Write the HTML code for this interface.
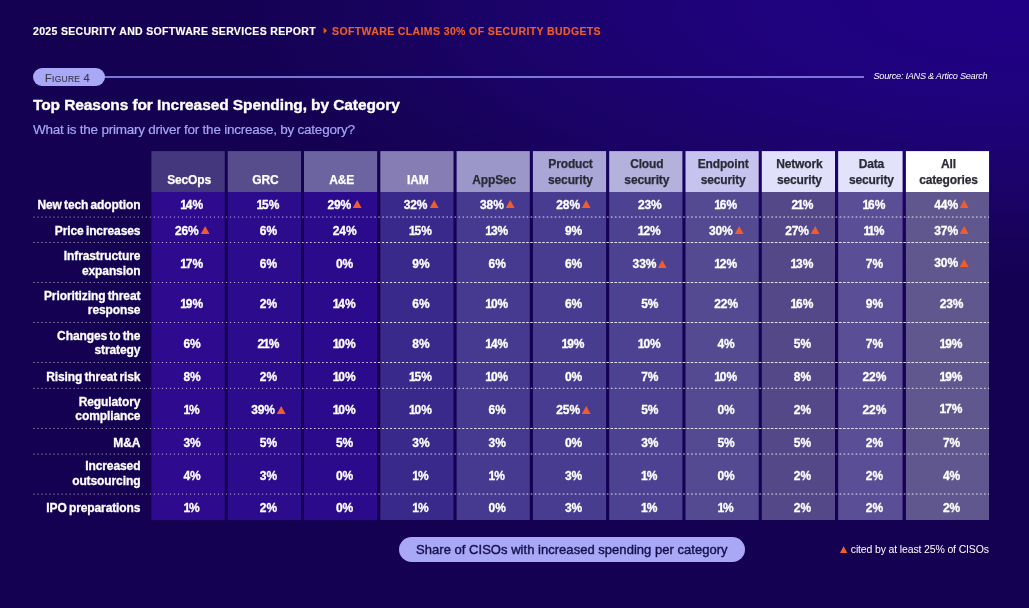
<!DOCTYPE html>
<html lang="en"><head><meta charset="utf-8"><title>Top Reasons for Increased Spending, by Category</title>
<style>
*{margin:0;padding:0;box-sizing:border-box}
html,body{width:1029px;height:608px;overflow:hidden}
body{position:relative;background:#140152;font-family:"Liberation Sans",Arial,sans-serif;color:#fff}
.bg{position:absolute;left:0;top:0;width:1029px;height:608px;background:radial-gradient(ellipse 820px 290px at 100% 0%, #200086 0%, #1e027a 40%, #1a0367 66%, #160257 88%, #140152 100%)}
.abs{position:absolute;white-space:nowrap}
.top{-webkit-text-stroke:0.15px;top:25px;font-size:10.5px;font-weight:bold;line-height:13px}
.pill{left:33px;top:68px;width:72px;height:18.4px;border-radius:9.2px;background:#a9a8f7;color:#3a3950;font-size:11px;line-height:20px;text-align:center;padding-right:3px;letter-spacing:0.25px;-webkit-text-stroke:0.15px #3a3950}
.pill small{font-size:8.5px}
.rule{left:104px;top:75.7px;width:760.4px;height:2px;background:#7a76d6}
.src{left:873.5px;top:69.5px;font-size:9.2px;font-style:italic;line-height:12px;letter-spacing:-0.28px}
.title{left:33px;top:96px;-webkit-text-stroke:0.35px #fff;font-size:15.5px;font-weight:bold;line-height:18px;letter-spacing:-0.09px}
.sub{-webkit-text-stroke:0.2px #a7a5f6;left:33px;top:122px;font-size:13.5px;line-height:16px;color:#a7a5f6;letter-spacing:-0.24px}
.hd{position:absolute;top:151.1px;height:40.9px}
.ht{-webkit-text-stroke:0.25px;position:absolute;left:1px;right:-1px;bottom:4.1px;text-align:center;font-size:12px;font-weight:bold;line-height:15.2px;letter-spacing:-0.15px}
.lbl{position:absolute;left:0;width:140.4px;text-align:right;font-size:12px;font-weight:bold;line-height:15px;letter-spacing:-0.1px;word-spacing:-1px;white-space:nowrap;-webkit-text-stroke:0.3px #fff}
.v{position:absolute;font-size:12px;font-weight:bold;line-height:14px;letter-spacing:-0.1px;white-space:nowrap;transform:translateX(-50%);-webkit-text-stroke:0.3px #fff}
.v b{margin:0 -0.9px 0 -1.1px}
.tri{display:inline-block;width:8.8px;height:8px;margin-left:1.9px;position:relative;top:-0.2px;fill:#ef5d2c;overflow:visible}
.legend{left:398.7px;top:537px;width:346.3px;height:25.2px;border-radius:12.6px;background:#a9a8f7;color:#17104c;font-size:13px;line-height:26.4px;text-align:center;letter-spacing:0.03px;-webkit-text-stroke:0.4px #17104c}
.note{left:839.9px;top:543.3px;font-size:10.5px;line-height:13px;letter-spacing:-0.145px}
.note .tri{width:7.3px;height:7px;margin:0 3.6px 0 0;top:0.2px}
</style></head><body>
<div class="bg"></div>
<div class="abs top" style="left:33px;letter-spacing:0.323px">2025 SECURITY AND SOFTWARE SERVICES REPORT</div>
<svg class="abs" style="left:323.2px;top:26.9px" width="5" height="8" viewBox="0 0 5 8"><path d="M0.7 0.6 L4 3.7 L0.7 6.8 Z" fill="#ef5d2c"/></svg>
<div class="abs top" style="left:332px;color:#ef5d2c;letter-spacing:0.38px">SOFTWARE CLAIMS 30% OF SECURITY BUDGETS</div>
<div class="abs rule"></div>
<div class="abs pill">F<small>IGURE</small> 4</div>
<div class="abs src">Source: IANS &amp; Artico Search</div>
<div class="abs title">Top Reasons for Increased Spending, by Category</div>
<div class="abs sub">What is the primary driver for the increase, by category?</div>

<svg class="abs" style="left:0;top:0" width="1029" height="608" viewBox="0 0 1029 608">
<rect x="151.35" y="151.1" width="73.40" height="40.9" fill="#44377e"/><rect x="151.35" y="192" width="73.40" height="328" fill="#2d0a8e"/>
<rect x="227.75" y="151.1" width="73.30" height="40.9" fill="#574d8d"/><rect x="227.75" y="192" width="73.30" height="328" fill="#2c0b8d"/>
<rect x="304.0" y="151.1" width="73.15" height="40.9" fill="#6c63a1"/><rect x="304.0" y="192" width="73.15" height="328" fill="#2b0b8c"/>
<rect x="380.3" y="151.1" width="73.20" height="40.9" fill="#857db3"/><rect x="380.3" y="192" width="73.20" height="328" fill="#39298b"/>
<rect x="456.6" y="151.1" width="73.20" height="40.9" fill="#9c97c9"/><rect x="456.6" y="192" width="73.20" height="328" fill="#453a90"/>
<rect x="532.9" y="151.1" width="73.20" height="40.9" fill="#aaa6d6"/><rect x="532.9" y="192" width="73.20" height="328" fill="#473c90"/>
<rect x="609.2" y="151.1" width="73.20" height="40.9" fill="#b4b1dc"/><rect x="609.2" y="192" width="73.20" height="328" fill="#4d4292"/>
<rect x="685.5" y="151.1" width="73.20" height="40.9" fill="#c6c4ee"/><rect x="685.5" y="192" width="73.20" height="328" fill="#544a92"/>
<rect x="761.8" y="151.1" width="73.20" height="40.9" fill="#e1e0fb"/><rect x="761.8" y="192" width="73.20" height="328" fill="#544888"/>
<rect x="838.15" y="151.1" width="64.45" height="40.9" fill="#e3e2fb"/><rect x="838.15" y="192" width="64.45" height="328" fill="#5a4e96"/>
<rect x="905.9" y="151.1" width="83.15" height="40.9" fill="#ffffff"/><rect x="905.9" y="192" width="83.15" height="328" fill="#60578f"/>
</svg>
<div class="hd" style="left:151.35px;width:73.40px;color:#fff"><div class="ht">SecOps</div></div>
<div class="hd" style="left:227.75px;width:73.30px;color:#fff"><div class="ht">GRC</div></div>
<div class="hd" style="left:304.0px;width:73.15px;color:#fff"><div class="ht">A&amp;E</div></div>
<div class="hd" style="left:380.3px;width:73.20px;color:#fff"><div class="ht">IAM</div></div>
<div class="hd" style="left:456.6px;width:73.20px;color:#2b2b38"><div class="ht">AppSec</div></div>
<div class="hd" style="left:532.9px;width:73.20px;color:#2b2b38"><div class="ht">Product<br>security</div></div>
<div class="hd" style="left:609.2px;width:73.20px;color:#2b2b38"><div class="ht">Cloud<br>security</div></div>
<div class="hd" style="left:685.5px;width:73.20px;color:#2b2b38"><div class="ht">Endpoint<br>security</div></div>
<div class="hd" style="left:761.8px;width:73.20px;color:#2b2b38"><div class="ht">Network<br>security</div></div>
<div class="hd" style="left:838.15px;width:64.45px;color:#2b2b38"><div class="ht">Data<br>security</div></div>
<div class="hd" style="left:905.9px;width:83.15px;color:#2b2b38"><div class="ht">All<br>categories</div></div>
<div class="lbl" style="top:197.84px">New tech adoption</div>
<div class="v" style="left:192.1px;top:197.54px"><b>1</b>4%</div>
<div class="v" style="left:268.4px;top:197.54px"><b>1</b>5%</div>
<div class="v" style="left:344.6px;top:197.54px">29%<svg class="tri" viewBox="0 0 8.8 8" preserveAspectRatio="none"><path d="M4.4 0L8.8 8H0Z"/></svg></div>
<div class="v" style="left:420.9px;top:197.54px">32%<svg class="tri" viewBox="0 0 8.8 8" preserveAspectRatio="none"><path d="M4.4 0L8.8 8H0Z"/></svg></div>
<div class="v" style="left:497.2px;top:197.54px">38%<svg class="tri" viewBox="0 0 8.8 8" preserveAspectRatio="none"><path d="M4.4 0L8.8 8H0Z"/></svg></div>
<div class="v" style="left:573.5px;top:197.54px">28%<svg class="tri" viewBox="0 0 8.8 8" preserveAspectRatio="none"><path d="M4.4 0L8.8 8H0Z"/></svg></div>
<div class="v" style="left:649.8px;top:197.54px">23%</div>
<div class="v" style="left:726.1px;top:197.54px"><b>1</b>6%</div>
<div class="v" style="left:802.4px;top:197.54px">2<b>1</b>%</div>
<div class="v" style="left:874.4px;top:197.54px"><b>1</b>6%</div>
<div class="v" style="left:951.5px;top:197.54px">44%<svg class="tri" viewBox="0 0 8.8 8" preserveAspectRatio="none"><path d="M4.4 0L8.8 8H0Z"/></svg></div>
<div class="lbl" style="top:223.84px">Price increases</div>
<div class="v" style="left:192.1px;top:223.54px">26%<svg class="tri" viewBox="0 0 8.8 8" preserveAspectRatio="none"><path d="M4.4 0L8.8 8H0Z"/></svg></div>
<div class="v" style="left:268.4px;top:223.54px">6%</div>
<div class="v" style="left:344.6px;top:223.54px">24%</div>
<div class="v" style="left:420.9px;top:223.54px"><b>1</b>5%</div>
<div class="v" style="left:497.2px;top:223.54px"><b>1</b>3%</div>
<div class="v" style="left:573.5px;top:223.54px">9%</div>
<div class="v" style="left:649.8px;top:223.54px"><b>1</b>2%</div>
<div class="v" style="left:726.1px;top:223.54px">30%<svg class="tri" viewBox="0 0 8.8 8" preserveAspectRatio="none"><path d="M4.4 0L8.8 8H0Z"/></svg></div>
<div class="v" style="left:802.4px;top:223.54px">27%<svg class="tri" viewBox="0 0 8.8 8" preserveAspectRatio="none"><path d="M4.4 0L8.8 8H0Z"/></svg></div>
<div class="v" style="left:874.4px;top:223.54px"><b>1</b><b>1</b>%</div>
<div class="v" style="left:951.5px;top:223.54px">37%<svg class="tri" viewBox="0 0 8.8 8" preserveAspectRatio="none"><path d="M4.4 0L8.8 8H0Z"/></svg></div>
<div class="lbl" style="top:248.74px;line-height:14.8px">Infrastructure<br>expansion</div>
<div class="v" style="left:192.1px;top:257.14px"><b>1</b>7%</div>
<div class="v" style="left:268.4px;top:257.14px">6%</div>
<div class="v" style="left:344.6px;top:257.14px">0%</div>
<div class="v" style="left:420.9px;top:257.14px">9%</div>
<div class="v" style="left:497.2px;top:257.14px">6%</div>
<div class="v" style="left:573.5px;top:257.14px">6%</div>
<div class="v" style="left:649.8px;top:257.14px">33%<svg class="tri" viewBox="0 0 8.8 8" preserveAspectRatio="none"><path d="M4.4 0L8.8 8H0Z"/></svg></div>
<div class="v" style="left:726.1px;top:257.14px"><b>1</b>2%</div>
<div class="v" style="left:802.4px;top:257.14px"><b>1</b>3%</div>
<div class="v" style="left:874.4px;top:257.14px">7%</div>
<div class="v" style="left:951.5px;top:256.14px">30%<svg class="tri" viewBox="0 0 8.8 8" preserveAspectRatio="none"><path d="M4.4 0L8.8 8H0Z"/></svg></div>
<div class="lbl" style="top:288.54px;line-height:14.8px">Prioritizing threat<br>response</div>
<div class="v" style="left:192.1px;top:297.14px"><b>1</b>9%</div>
<div class="v" style="left:268.4px;top:297.14px">2%</div>
<div class="v" style="left:344.6px;top:297.14px"><b>1</b>4%</div>
<div class="v" style="left:420.9px;top:297.14px">6%</div>
<div class="v" style="left:497.2px;top:297.14px"><b>1</b>0%</div>
<div class="v" style="left:573.5px;top:297.14px">6%</div>
<div class="v" style="left:649.8px;top:297.14px">5%</div>
<div class="v" style="left:726.1px;top:297.14px">22%</div>
<div class="v" style="left:802.4px;top:297.14px"><b>1</b>6%</div>
<div class="v" style="left:874.4px;top:297.14px">9%</div>
<div class="v" style="left:951.5px;top:297.14px">23%</div>
<div class="lbl" style="top:328.64px;line-height:14.8px">Changes to the<br>strategy</div>
<div class="v" style="left:192.1px;top:337.24px">6%</div>
<div class="v" style="left:268.4px;top:337.24px">2<b>1</b>%</div>
<div class="v" style="left:344.6px;top:337.24px"><b>1</b>0%</div>
<div class="v" style="left:420.9px;top:337.24px">8%</div>
<div class="v" style="left:497.2px;top:337.24px"><b>1</b>4%</div>
<div class="v" style="left:573.5px;top:337.24px"><b>1</b>9%</div>
<div class="v" style="left:649.8px;top:337.24px"><b>1</b>0%</div>
<div class="v" style="left:726.1px;top:337.24px">4%</div>
<div class="v" style="left:802.4px;top:337.24px">5%</div>
<div class="v" style="left:874.4px;top:337.24px">7%</div>
<div class="v" style="left:951.5px;top:337.24px"><b>1</b>9%</div>
<div class="lbl" style="top:369.94px">Rising threat risk</div>
<div class="v" style="left:192.1px;top:369.64px">8%</div>
<div class="v" style="left:268.4px;top:369.64px">2%</div>
<div class="v" style="left:344.6px;top:369.64px"><b>1</b>0%</div>
<div class="v" style="left:420.9px;top:369.64px"><b>1</b>5%</div>
<div class="v" style="left:497.2px;top:369.64px"><b>1</b>0%</div>
<div class="v" style="left:573.5px;top:369.64px">0%</div>
<div class="v" style="left:649.8px;top:369.64px">7%</div>
<div class="v" style="left:726.1px;top:369.64px"><b>1</b>0%</div>
<div class="v" style="left:802.4px;top:369.64px">8%</div>
<div class="v" style="left:874.4px;top:369.64px">22%</div>
<div class="v" style="left:951.5px;top:369.64px"><b>1</b>9%</div>
<div class="lbl" style="top:395.04px;line-height:14.0px">Regulatory<br>compliance</div>
<div class="v" style="left:192.1px;top:403.24px"><b>1</b>%</div>
<div class="v" style="left:268.4px;top:403.24px">39%<svg class="tri" viewBox="0 0 8.8 8" preserveAspectRatio="none"><path d="M4.4 0L8.8 8H0Z"/></svg></div>
<div class="v" style="left:344.6px;top:403.24px"><b>1</b>0%</div>
<div class="v" style="left:420.9px;top:403.24px"><b>1</b>0%</div>
<div class="v" style="left:497.2px;top:403.24px">6%</div>
<div class="v" style="left:573.5px;top:403.24px">25%<svg class="tri" viewBox="0 0 8.8 8" preserveAspectRatio="none"><path d="M4.4 0L8.8 8H0Z"/></svg></div>
<div class="v" style="left:649.8px;top:403.24px">5%</div>
<div class="v" style="left:726.1px;top:403.24px">0%</div>
<div class="v" style="left:802.4px;top:403.24px">2%</div>
<div class="v" style="left:874.4px;top:403.24px">22%</div>
<div class="v" style="left:951.5px;top:402.24px"><b>1</b>7%</div>
<div class="lbl" style="top:436.04px">M&amp;A</div>
<div class="v" style="left:192.1px;top:435.74px">3%</div>
<div class="v" style="left:268.4px;top:435.74px">5%</div>
<div class="v" style="left:344.6px;top:435.74px">5%</div>
<div class="v" style="left:420.9px;top:435.74px">3%</div>
<div class="v" style="left:497.2px;top:435.74px">3%</div>
<div class="v" style="left:573.5px;top:435.74px">0%</div>
<div class="v" style="left:649.8px;top:435.74px">3%</div>
<div class="v" style="left:726.1px;top:435.74px">5%</div>
<div class="v" style="left:802.4px;top:435.74px">5%</div>
<div class="v" style="left:874.4px;top:435.74px">2%</div>
<div class="v" style="left:951.5px;top:435.74px">7%</div>
<div class="lbl" style="top:459.49px;line-height:14.9px">Increased<br>outsourcing</div>
<div class="v" style="left:192.1px;top:468.64px">4%</div>
<div class="v" style="left:268.4px;top:468.64px">3%</div>
<div class="v" style="left:344.6px;top:468.64px">0%</div>
<div class="v" style="left:420.9px;top:468.64px"><b>1</b>%</div>
<div class="v" style="left:497.2px;top:468.64px"><b>1</b>%</div>
<div class="v" style="left:573.5px;top:468.64px">3%</div>
<div class="v" style="left:649.8px;top:468.64px"><b>1</b>%</div>
<div class="v" style="left:726.1px;top:468.64px">0%</div>
<div class="v" style="left:802.4px;top:468.64px">2%</div>
<div class="v" style="left:874.4px;top:468.64px">2%</div>
<div class="v" style="left:951.5px;top:468.64px">4%</div>
<div class="lbl" style="top:500.84px">IPO preparations</div>
<div class="v" style="left:192.1px;top:500.54px"><b>1</b>%</div>
<div class="v" style="left:268.4px;top:500.54px">2%</div>
<div class="v" style="left:344.6px;top:500.54px">0%</div>
<div class="v" style="left:420.9px;top:500.54px"><b>1</b>%</div>
<div class="v" style="left:497.2px;top:500.54px">0%</div>
<div class="v" style="left:573.5px;top:500.54px">3%</div>
<div class="v" style="left:649.8px;top:500.54px"><b>1</b>%</div>
<div class="v" style="left:726.1px;top:500.54px"><b>1</b>%</div>
<div class="v" style="left:802.4px;top:500.54px">2%</div>
<div class="v" style="left:874.4px;top:500.54px">2%</div>
<div class="v" style="left:951.5px;top:500.54px">2%</div>
<svg class="abs" style="left:0;top:0" width="1029" height="608" viewBox="0 0 1029 608" fill="none" stroke="#fff" stroke-opacity="0.85" stroke-width="1.15" stroke-linecap="round">
<path d="M34.00 217.0H270.76" stroke-dasharray="0 4.012"/>
<path d="M274.58 217.0H371.19" stroke-dasharray="0.27 3.742"/>
<path d="M374.75 217.0H471.63" stroke-dasharray="0.54 3.472"/>
<path d="M474.93 217.0H988.60" stroke-dasharray="0.77 3.242"/>
<path d="M34.00 242.5H270.76" stroke-dasharray="0 4.012"/>
<path d="M274.42 242.5H371.36" stroke-dasharray="0.6 3.412"/>
<path d="M374.42 242.5H471.96" stroke-dasharray="1.2 2.812"/>
<path d="M474.47 242.5H988.60" stroke-dasharray="1.7 2.312"/>
<path d="M34.00 282.5H270.76" stroke-dasharray="0 4.012"/>
<path d="M274.42 282.5H371.36" stroke-dasharray="0.6 3.412"/>
<path d="M374.42 282.5H471.96" stroke-dasharray="1.2 2.812"/>
<path d="M474.47 282.5H988.60" stroke-dasharray="1.7 2.312"/>
<path d="M34.00 322.5H270.76" stroke-dasharray="0 4.012"/>
<path d="M274.42 322.5H371.36" stroke-dasharray="0.6 3.412"/>
<path d="M374.42 322.5H471.96" stroke-dasharray="1.2 2.812"/>
<path d="M474.47 322.5H988.60" stroke-dasharray="1.7 2.312"/>
<path d="M34.00 362.5H270.76" stroke-dasharray="0 4.012"/>
<path d="M274.42 362.5H371.36" stroke-dasharray="0.6 3.412"/>
<path d="M374.42 362.5H471.96" stroke-dasharray="1.2 2.812"/>
<path d="M474.47 362.5H988.60" stroke-dasharray="1.7 2.312"/>
<path d="M34.00 388.25H270.76" stroke-dasharray="0 4.012"/>
<path d="M274.58 388.25H371.19" stroke-dasharray="0.27 3.742"/>
<path d="M374.75 388.25H471.63" stroke-dasharray="0.54 3.472"/>
<path d="M474.93 388.25H988.60" stroke-dasharray="0.77 3.242"/>
<path d="M34.00 428.45H270.76" stroke-dasharray="0 4.012"/>
<path d="M274.42 428.45H371.36" stroke-dasharray="0.6 3.412"/>
<path d="M374.42 428.45H471.96" stroke-dasharray="1.2 2.812"/>
<path d="M474.47 428.45H988.60" stroke-dasharray="1.7 2.312"/>
<path d="M34.00 454.0H270.76" stroke-dasharray="0 4.012"/>
<path d="M274.58 454.0H371.19" stroke-dasharray="0.27 3.742"/>
<path d="M374.75 454.0H471.63" stroke-dasharray="0.54 3.472"/>
<path d="M474.93 454.0H988.60" stroke-dasharray="0.77 3.242"/>
<path d="M34.00 494.0H270.76" stroke-dasharray="0 4.012"/>
<path d="M274.58 494.0H371.19" stroke-dasharray="0.27 3.742"/>
<path d="M374.75 494.0H471.63" stroke-dasharray="0.54 3.472"/>
<path d="M474.93 494.0H988.60" stroke-dasharray="0.77 3.242"/>
</svg>
<div class="abs legend">Share of CISOs with increased spending per category</div>
<div class="abs note"><svg class="tri" viewBox="0 0 8.8 8" preserveAspectRatio="none"><path d="M4.4 0L8.8 8H0Z"/></svg>cited by at least 25% of CISOs</div>
</body></html>
